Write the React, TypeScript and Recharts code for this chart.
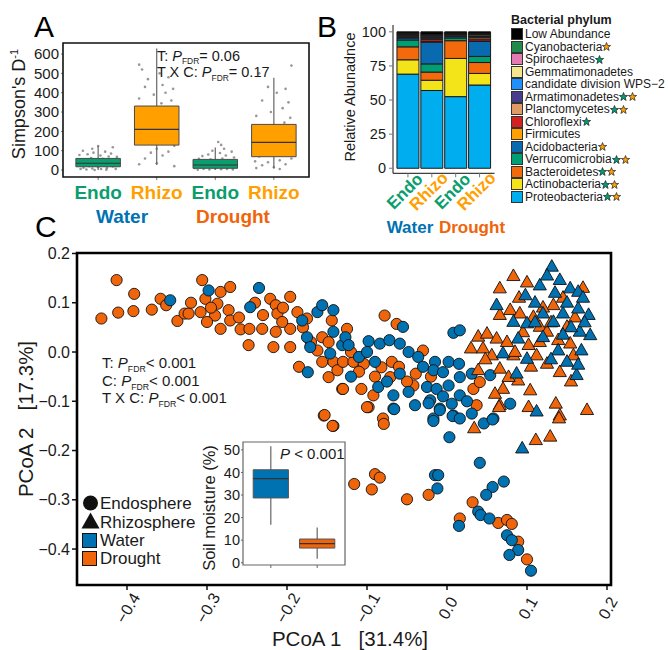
import React from 'react';
import { ScatterChart, Scatter, XAxis, YAxis, ReferenceArea, ReferenceLine, BarChart, Bar } from 'recharts';

const FONT = '"Liberation Sans", Arial, Helvetica, sans-serif';
const INK = '#1a1a1a';
const GREEN = '#0A9E6E';
const GOLD = '#FFA000';
const BLUE = '#0072B2';
const ORANGE = '#F0640A';

// ---------- A: Simpson's diversity ----------
const compartments = ['Endo', 'Rhizo', 'Endo', 'Rhizo'];
const simpsonMin = [0, 26, 0, 8];
const simpsonQ1 = [17, 129, 9, 69];
const simpsonMedian = [35, 210, 26, 143];
const simpsonQ3 = [60, 331, 55, 236];
const simpsonMax = [124, 628, 117, 477];

// jittered samples: [offset from group centre, Simpson's D-1]
const endoWaterSamples: [number, number][] = [
  [-0.3, 5], [-0.25, 12], [-0.2, 3], [-0.15, 20], [-0.1, 8], [-0.05, 30], [0, 15], [0.05, 5], [0.1, 25],
  [0.15, 10], [0.2, 40], [0.25, 18], [0.3, 6], [-0.28, 45], [-0.22, 55], [-0.12, 62], [-0.02, 48],
  [0.08, 58], [0.18, 70], [0.28, 52], [-0.32, 78], [-0.18, 82], [-0.08, 90], [0.04, 75], [0.12, 95],
  [0.22, 85], [0.32, 68], [-0.26, 100], [0, 124], [0.25, 118], [-0.1, 110], [0.3, 35], [-0.35, 28],
  [0.14, 2], [-0.06, 0],
];
const rhizoWaterSamples: [number, number][] = [
  [-0.3, 30], [-0.2, 60], [-0.1, 90], [0, 110], [0.1, 75], [0.2, 95], [0.3, 125], [-0.25, 140],
  [-0.15, 160], [-0.05, 175], [0.05, 190], [0.15, 150], [0.25, 170], [-0.28, 200], [-0.18, 225],
  [-0.08, 245], [0.02, 260], [0.12, 215], [0.22, 280], [0.3, 235], [-0.22, 300], [-0.12, 320],
  [0.08, 345], [0.18, 310], [-0.3, 370], [-0.05, 390], [0.15, 400], [0.25, 360], [-0.2, 430],
  [0.1, 440], [0.28, 420], [-0.15, 470], [0.05, 500], [-0.3, 545], [-0.25, 520], [0.2, 480],
  [0, 35], [0.3, 20],
];
const endoDroughtSamples: [number, number][] = [
  [-0.3, 2], [-0.2, 5], [-0.1, 3], [0, 8], [0.1, 4], [0.2, 6], [0.3, 3], [-0.25, 15], [-0.15, 22],
  [-0.05, 30], [0.05, 18], [0.15, 35], [0.25, 25], [-0.3, 40], [-0.18, 48], [-0.08, 55], [0.02, 42],
  [0.12, 60], [0.22, 50], [0.32, 65], [-0.22, 72], [-0.12, 80], [0.08, 88], [0.18, 75], [0.28, 95],
  [-0.05, 100], [0.15, 110], [0.1, 130], [0.05, 145], [-0.28, 58], [0.3, 12], [-0.35, 10],
];
const rhizoDroughtSamples: [number, number][] = [
  [-0.3, 10], [-0.2, 25], [-0.1, 40], [0, 15], [0.1, 50], [0.2, 30], [0.3, 60], [-0.25, 70],
  [-0.15, 85], [-0.05, 95], [0.05, 110], [0.15, 80], [0.25, 100], [-0.28, 120], [-0.18, 140],
  [-0.08, 160], [0.02, 130], [0.12, 170], [0.22, 150], [0.32, 190], [-0.22, 210], [-0.12, 230],
  [0.08, 200], [0.18, 245], [0.28, 270], [-0.3, 280], [-0.05, 300], [0.15, 320], [0.25, 350],
  [-0.2, 360], [0.05, 400], [-0.1, 430], [0.2, 420], [-0.25, 500], [0.3, 540], [0.1, 5], [-0.32, 45],
];

// ---------- B: relative abundance (%) per sample ----------
const sampleLabels = ['Endo', 'Rhizo', 'Endo', 'Rhizo'];
const proteobacteria = [69, 57, 52.5, 61];
const actinobacteria = [10.5, 7.5, 28, 8.5];
const bacteroidetes = [9.5, 6, 13, 8];
const verrucomicrobia = [5, 6, 2, 4.5];
const acidobacteria = [1.5, 16, 1, 11];
const firmicutes = [0.5, 0.3, 0.3, 0.3];
const chloroflexi = [0.5, 1.5, 0.7, 1.5];
const planctomycetes = [1, 1, 0.7, 1.2];
const armatimonadetes = [0.3, 0.7, 0.2, 0.6];
const wps2 = [0.2, 0.5, 0.1, 0.4];
const gemmatimonadetes = [0.3, 1, 0.2, 0.8];
const spirochaetes = [0.2, 0.2, 0.1, 0.2];
const cyanobacteria = [0.5, 0.3, 0.2, 0.5];
const lowAbundance = [1, 2, 1, 1.5];

// bottom to top of the stack
const phylumNames = [
  'Proteobacteria', 'Actinobacteria', 'Bacteroidetes', 'Verrucomicrobia', 'Acidobacteria', 'Firmicutes',
  'Chloroflexi', 'Planctomycetes', 'Armatimonadetes', 'candidate division WPS\u22122', 'Gemmatimonadetes',
  'Spirochaetes', 'Cyanobacteria', 'Low Abundance',
];
const phylumValues = [
  proteobacteria, actinobacteria, bacteroidetes, verrucomicrobia, acidobacteria, firmicutes, chloroflexi,
  planctomycetes, armatimonadetes, wps2, gemmatimonadetes, spirochaetes, cyanobacteria, lowAbundance,
];
const phylumColors = [
  '#00AEEF', '#F3E41A', '#F26A0C', '#009E73', '#0A6AB0', '#FF9F00', '#D42020', '#E09A66', '#483D8B',
  '#1E90FF', '#F5E58C', '#E27BB1', '#1F8A4C', '#000000',
];
// significance stars: g = endosphere (green), o = rhizosphere (orange)
const phylumStars = ['go', 'go', 'go', 'go', 'o', '', 'g', 'go', 'go', '', '', 'g', 'o', ''];

const abundanceRows = sampleLabels.map((s, i) => {
  const row: Record<string, number | string> = { id: `${s}-${i}` };
  phylumNames.forEach((p, k) => { row[p] = phylumValues[k][i]; });
  return row;
});

// ---------- C: PCoA ----------
const endoWaterPcoa: [number, number][] = [
  [-0.346, 0.105], [-0.298, 0.125], [-0.235, 0.13], [-0.246, 0.091], [-0.174, -0.041], [-0.181, 0.064],
  [-0.162, 0.081], [-0.156, 0.095], [-0.142, 0.085], [-0.175, 0.03], [-0.171, 0.01], [-0.142, 0.041],
  [-0.146, -0.003], [-0.131, 0.014], [-0.127, 0.03], [-0.055, 0.051], [0.008, 0.039], [0.016, 0.044],
  [-0.067, -0.115], [-0.04, -0.108], [-0.123, 0.014], [-0.098, 0.022], [-0.084, 0.017], [-0.072, 0.024],
  [-0.059, 0.017], [-0.048, 0], [-0.036, -0.01], [-0.059, -0.044], [-0.048, -0.081], [-0.025, -0.071],
  [-0.013, -0.075], [0.002, -0.068], [-0.015, -0.02], [0.002, -0.02], [0.015, -0.024], [-0.017, -0.037],
  [-0.005, -0.041], [0.016, -0.051], [0.054, -0.047], [0.031, -0.044], [-0.021, -0.098], [-0.009, -0.115],
  [0.006, -0.105], [0.016, -0.088], [0.031, -0.125], [0.079, -0.105], [-0.067, -0.088], [-0.086, -0.071],
  [-0.017, -0.135], [0.008, -0.129], [0.058, -0.135], [-0.066, -0.116], [-0.023, -0.104], [-0.009, -0.118],
  [0.007, -0.13], [-0.017, -0.14], [0.016, -0.135], [0.046, -0.145], [0.057, -0.137], [0.003, -0.173],
  [0.041, -0.225], [0.071, -0.263], [0.057, -0.274], [0.049, -0.29], [0.039, -0.324], [0.042, -0.331],
  [0.053, -0.338], [0.075, -0.372], [0.081, -0.382], [0.089, -0.402], [0.078, -0.412], [0.105, -0.444],
  [0.015, -0.353], [-0.015, -0.25], [-0.011, -0.25], [-0.012, -0.277], [-0.11, -0.01], [-0.09, -0.02],
  [-0.075, -0.06], [-0.03, -0.03], [-0.005, -0.09], [0.025, -0.1], [-0.12, -0.05], [-0.1, 0],
];
const endoDroughtPcoa: [number, number][] = [
  [-0.413, 0.146], [-0.391, 0.118], [-0.432, 0.068], [-0.411, 0.08], [-0.392, 0.083], [-0.369, 0.086],
  [-0.358, 0.108], [-0.351, 0.095], [-0.337, 0.063], [-0.328, 0.078], [-0.323, 0.078], [-0.306, 0.146],
  [-0.302, 0.108], [-0.287, 0.098], [-0.283, 0.122], [-0.271, 0.132], [-0.308, 0.081], [-0.29, 0.074],
  [-0.3, 0.061], [-0.273, 0.085], [-0.271, 0.064], [-0.283, 0.047], [-0.258, 0.046], [-0.247, 0.047],
  [-0.248, 0.014], [-0.231, 0.047], [-0.221, 0.108], [-0.214, 0.095], [-0.212, 0.078], [-0.196, 0.112],
  [-0.187, 0.081], [-0.214, 0.041], [-0.217, 0.01], [-0.196, 0.01], [-0.196, 0.047], [-0.206, 0.061],
  [-0.185, -0.03], [-0.175, 0.068], [-0.144, 0.064], [-0.156, 0.03], [-0.148, 0.02], [-0.162, 0.003],
  [-0.156, -0.02], [-0.142, -0.02], [-0.148, -0.051], [-0.137, -0.037], [-0.154, -0.129], [-0.131, -0.075],
  [-0.078, 0.074], [-0.063, 0.057], [-0.125, 0.047], [-0.13, -0.075], [-0.098, -0.112], [-0.03, 0.003],
  [-0.13, -0.02], [-0.117, -0.02], [-0.104, -0.024], [-0.082, -0.031], [-0.069, -0.02], [-0.071, -0.051],
  [-0.039, -0.044], [-0.042, -0.068], [0.033, -0.075], [0.041, -0.061], [0.037, -0.108], [-0.092, -0.088],
  [-0.107, -0.075], [-0.08, -0.135], [-0.1, -0.112], [-0.079, -0.146], [-0.142, -0.15], [-0.153, -0.128],
  [-0.143, -0.15], [0.032, -0.305], [0.064, -0.347], [0.075, -0.341], [0.081, -0.349], [0.089, -0.385],
  [0.1, -0.421], [0.016, -0.338], [-0.023, -0.29], [-0.05, -0.299], [-0.09, -0.248], [-0.084, -0.255],
  [-0.094, -0.279], [-0.116, -0.268], [-0.32, 0.1], [-0.295, 0.09], [-0.26, 0.07], [-0.24, 0.1],
  [-0.23, 0.075], [-0.205, 0.09], [-0.18, 0.05], [-0.17, 0.02], [-0.12, 0], [-0.11, -0.04], [-0.09, -0.05],
  [-0.06, -0.03], [-0.05, -0.06], [-0.02, -0.05],
];
const rhizoWaterPcoa: [number, number][] = [
  [0.131, 0.173], [0.098, 0.115], [0.116, 0.135], [0.141, 0.146], [0.154, 0.129], [0.164, 0.122],
  [0.062, 0.095], [0.083, 0.061], [0.1, 0.058], [0.12, 0.078], [0.145, 0.078], [0.164, 0.088],
  [0.177, 0.075], [0.179, 0.034], [0.166, 0.041], [0.133, 0.061], [0.089, 0.027], [0.168, 0.003],
  [0.139, 0.003], [0.162, -0.047], [0.164, -0.026], [0.07, -0.003], [0.1, -0.014], [0.087, -0.044],
  [0.112, -0.121], [0.094, -0.196], [0.125, 0.155], [0.15, 0.1], [0.135, 0.12], [0.17, 0.11], [0.11, 0.1],
  [0.155, 0.05], [0.12, 0.03], [0.145, 0.035], [0.172, 0.06], [0.13, -0.015], [0.15, -0.02], [0.11, 0.06],
];
const rhizoDroughtPcoa: [number, number][] = [
  [0.066, 0.129], [0.083, 0.154], [0.1, 0.141], [0.17, 0.13], [0.066, 0.075], [0.079, 0.085],
  [0.091, 0.078], [0.108, 0.071], [0.133, 0.095], [0.15, 0.051], [0.116, 0.051], [0.039, 0.031],
  [0.05, 0.037], [0.03, 0.007], [0.045, 0.007], [0.062, 0.027], [0.075, 0.02], [0.102, 0.014],
  [0.116, 0.02], [0.125, 0.041], [0.139, 0.024], [0.154, 0.017], [0.158, -0.007], [0.125, -0.024],
  [0.141, -0.041], [0.056, -0.007], [0.083, -0.007], [0.112, -0.007], [0.039, -0.037], [0.066, -0.034],
  [0.089, -0.058], [0.077, -0.051], [0.07, -0.075], [0.06, -0.085], [0.066, -0.108], [0.104, -0.078],
  [0.102, -0.112], [0.136, -0.105], [0.141, -0.129], [0.175, -0.118], [0.14, -0.135], [0.034, -0.155],
  [0.065, -0.112], [0.111, -0.179], [0.129, -0.172], [0.09, 0.11], [0.12, 0.09], [0.145, 0.11],
  [0.16, 0.07], [0.095, 0.04], [0.13, 0.06], [0.085, 0], [0.105, -0.03], [0.155, -0.06], [0.048, -0.015],
];
const pcoaXTicks = [-0.4, -0.3, -0.2, -0.1, 0, 0.1, 0.2];
const pcoaYTicks = [-0.4, -0.3, -0.2, -0.1, 0, 0.1, 0.2];

// ---------- C inset: soil moisture (%) ----------
const moistureMin = [16.8, 1.8];
const moistureQ1 = [28.7, 6.5];
const moistureMedian = [37.3, 8.5];
const moistureQ3 = [41.2, 10.5];
const moistureMax = [51.6, 15.6];

const toPoints = (pts: [number, number][]) => pts.map(([x, y]) => ({ x, y }));
const jitter = (group: number, pts: [number, number][]) => pts.map(([dx, y]) => ({ x: group + 1 + dx, y }));
const fmtPcoa = (v: number) => (v < 0 ? '\u2212' : '') + Math.abs(v).toFixed(1);

const Dot = (color: string) => (p: any) => (
  <circle cx={p.cx} cy={p.cy} r={5.6} fill={color} stroke="#111" strokeWidth={0.9} />
);
const Tri = (color: string) => (p: any) => (
  <polygon
    points={`${p.cx},${p.cy - 7.2} ${p.cx - 6.6},${p.cy + 4.4} ${p.cx + 6.6},${p.cy + 4.4}`}
    fill={color}
    stroke="#111"
    strokeWidth={0.9}
    strokeLinejoin="round"
  />
);
const Speck = (p: any) => <circle cx={p.cx} cy={p.cy} r={1.3} fill="#7d7d7d" fillOpacity={0.8} />;
const Nothing = () => <g />;

function Boxes({ centers, lo, q1, med, q3, hi, half, colors, edge }: any) {
  return centers.map((c: number, i: number) => (
    <React.Fragment key={`bx-${i}`}>
      <ReferenceLine segment={[{ x: c, y: lo[i] }, { x: c, y: hi[i] }]} stroke="#666" strokeWidth={1.2} zIndex={650} />
      <ReferenceArea
        x1={c - half}
        x2={c + half}
        y1={q1[i]}
        y2={q3[i]}
        fill={colors[i]}
        fillOpacity={1}
        stroke={edge}
        strokeWidth={1}
        zIndex={660}
      />
      <ReferenceLine segment={[{ x: c - half, y: med[i] }, { x: c + half, y: med[i] }]} stroke="#333" strokeWidth={1.2} zIndex={670} />
    </React.Fragment>
  ));
}

const Star = ({ color }: { color: string }) => (
  <svg width={9} height={9} viewBox="0 0 10 10" style={{ display: 'block', flex: 'none' }}>
    <polygon
      points="5,0.6 6.2,3.8 9.6,3.9 6.9,6 7.9,9.4 5,7.4 2.1,9.4 3.1,6 0.4,3.9 3.8,3.8"
      fill={color}
      stroke="#222"
      strokeWidth={0.8}
    />
  </svg>
);

const PText = ({ x, y, size, prefix, rest, italicOnly }: any) => (
  <text x={x} y={y} fontSize={size} fill={INK}>
    {prefix}
    <tspan fontStyle="italic">P</tspan>
    {italicOnly ? (
      <tspan>{rest}</tspan>
    ) : (
      <>
        <tspan fontSize={size * 0.58} dy={size * 0.25}>FDR</tspan>
        <tspan dy={-size * 0.25}>{rest}</tspan>
      </>
    )}
  </text>
);

export default function App() {
  const boxColorsA = compartments.map((c) => (c === 'Endo' ? GREEN : GOLD));
  const legendOrder = phylumNames.map((_, k) => phylumNames.length - 1 - k);
  const moistureCentres = moistureMedian.map((m, i) => ({ x: i + 1, y: m }));

  return (
    <div style={{ position: 'absolute', left: 0, top: 0, width: 668, height: 650, background: '#fff', fontFamily: FONT }}>
      {/* A */}
      <div style={{ position: 'absolute', left: 0, top: 0 }}>
        <ScatterChart width={320} height={230} margin={{ top: 43, right: 11, bottom: 23, left: 0 }}>
          <XAxis
            type="number"
            dataKey="x"
            domain={[0.4, 4.6]}
            ticks={[1, 2, 3, 4]}
            interval={0}
            height={30}
            axisLine={false}
            tickSize={3}
            tickMargin={2}
            tickLine={{ stroke: '#777' }}
            tick={(p: any) => (
              <text
                x={p.x}
                y={p.y + 17}
                textAnchor="middle"
                fontSize={19}
                fontWeight="bold"
                fill={compartments[p.index] === 'Endo' ? GREEN : GOLD}
              >
                {compartments[p.index]}
              </text>
            )}
          />
          <YAxis
            type="number"
            dataKey="y"
            domain={[-36, 657]}
            ticks={[0, 100, 200, 300, 400, 500, 600]}
            interval={0}
            width={63}
            axisLine={false}
            tickSize={2}
            tickMargin={2}
            tickLine={{ stroke: '#777' }}
            tick={{ fontSize: 15, fill: INK }}
          />
          <Scatter data={jitter(0, endoWaterSamples)} shape={Speck} isAnimationActive={false} />
          <Scatter data={jitter(1, rhizoWaterSamples)} shape={Speck} isAnimationActive={false} />
          <Scatter data={jitter(2, endoDroughtSamples)} shape={Speck} isAnimationActive={false} />
          <Scatter data={jitter(3, rhizoDroughtSamples)} shape={Speck} isAnimationActive={false} />
          {Boxes({
            centers: [1, 2, 3, 4],
            lo: simpsonMin,
            q1: simpsonQ1,
            med: simpsonMedian,
            q3: simpsonQ3,
            hi: simpsonMax,
            half: 0.38,
            colors: boxColorsA,
            edge: '#4a4a4a',
          })}
          <ReferenceArea x1={0.4} x2={4.6} y1={-36} y2={657} fill="none" stroke="#111" strokeWidth={1.6} zIndex={700} />
        </ScatterChart>
      </div>

      {/* B */}
      <div style={{ position: 'absolute', left: 340, top: 0 }}>
        <BarChart
          width={170}
          height={230}
          data={abundanceRows}
          margin={{ top: 25, right: 15.5, bottom: 14.7, left: 0 }}
          barCategoryGap="4%"
        >
          <XAxis
            dataKey="id"
            padding={{ left: 3, right: 3 }}
            interval={0}
            height={42}
            axisLine={{ stroke: '#111' }}
            tickLine={{ stroke: '#777' }}
            tickSize={4}
            tickMargin={2}
            tick={(p: any) => (
              <text
                x={p.x - 3}
                y={p.y + 12}
                transform={`rotate(-45 ${p.x - 3} ${p.y + 12})`}
                textAnchor="middle"
                dominantBaseline="central"
                fontSize={17}
                fontWeight="bold"
                fill={sampleLabels[p.index] === 'Endo' ? GREEN : GOLD}
              >
                {sampleLabels[p.index]}
              </text>
            )}
          />
          <YAxis
            type="number"
            domain={[-3.7, 105]}
            ticks={[0, 25, 50, 75, 100]}
            interval={0}
            width={53}
            axisLine={{ stroke: '#111' }}
            tickLine={{ stroke: '#777' }}
            tickSize={4}
            tickMargin={3}
            tick={{ fontSize: 14.5, fill: INK }}
          />
          {phylumNames.map((p, k) => (
            <Bar key={p} dataKey={p} stackId="a" fill={phylumColors[k]} stroke="#1a1a1a" strokeWidth={1} isAnimationActive={false} />
          ))}
        </BarChart>
      </div>

      {/* B legend */}
      <div style={{ position: 'absolute', left: 511, top: 14, fontSize: 12, color: INK, lineHeight: '12.5px' }}>
        <div style={{ fontWeight: 'bold', fontSize: 12.5, height: 14 }}>Bacterial phylum</div>
        {legendOrder.map((k) => (
          <div key={phylumNames[k]} style={{ display: 'flex', alignItems: 'center', height: 12.5 }}>
            <span
              style={{
                width: 10,
                height: 10,
                background: phylumColors[k],
                border: '1px solid #333',
                marginRight: 2,
                flex: 'none',
              }}
            />
            <span style={{ whiteSpace: 'nowrap' }}>{phylumNames[k]}</span>
            {phylumStars[k].split('').map((s, j) => (
              <Star key={j} color={s === 'g' ? '#009E73' : GOLD} />
            ))}
          </div>
        ))}
      </div>

      {/* C */}
      <div style={{ position: 'absolute', left: 0, top: 240 }}>
        <ScatterChart width={668} height={410} margin={{ top: 13, right: 57, bottom: 20, left: 0 }}>
          <XAxis
            type="number"
            dataKey="x"
            domain={[-0.4625, 0.205]}
            ticks={pcoaXTicks}
            interval={0}
            height={45}
            axisLine={false}
            tickSize={5}
            tickMargin={2}
            tickLine={{ stroke: '#111', strokeWidth: 1.5 }}
            tick={(p: any) => (
              <text
                x={p.x + 1}
                y={p.y + 16}
                transform={`rotate(-60 ${p.x + 1} ${p.y + 16})`}
                textAnchor="middle"
                dominantBaseline="central"
                fontSize={16}
                fill={INK}
              >
                {fmtPcoa(p.payload.value)}
              </text>
            )}
          />
          <YAxis
            type="number"
            dataKey="y"
            domain={[-0.473, 0.201]}
            ticks={pcoaYTicks}
            interval={0}
            width={77}
            axisLine={false}
            tickSize={5}
            tickMargin={2}
            tickLine={{ stroke: '#111', strokeWidth: 1.5 }}
            tickFormatter={fmtPcoa}
            tick={{ fontSize: 16, fill: INK }}
          />
          <Scatter data={toPoints(endoDroughtPcoa)} shape={Dot(ORANGE)} isAnimationActive={false} />
          <Scatter data={toPoints(endoWaterPcoa)} shape={Dot(BLUE)} isAnimationActive={false} />
          <Scatter data={toPoints(rhizoDroughtPcoa)} shape={Tri(ORANGE)} isAnimationActive={false} />
          <Scatter data={toPoints(rhizoWaterPcoa)} shape={Tri(BLUE)} isAnimationActive={false} />
          <ReferenceArea
            x1={-0.4625}
            x2={0.205}
            y1={-0.473}
            y2={0.201}
            fill="none"
            stroke="#000"
            strokeWidth={2.6}
            zIndex={700}
          />
        </ScatterChart>
      </div>

      {/* C inset */}
      <div style={{ position: 'absolute', left: 198, top: 436, width: 150, height: 134, background: '#fff' }}>
        <ScatterChart width={150} height={134} margin={{ top: 6, right: 3, bottom: 0, left: 0 }}>
          <XAxis
            type="number"
            dataKey="x"
            domain={[0.4, 2.6]}
            ticks={[1, 2]}
            interval={0}
            height={5}
            axisLine={false}
            tickSize={3}
            tickLine={{ stroke: '#666' }}
            tickFormatter={() => ''}
          />
          <YAxis
            type="number"
            dataKey="y"
            domain={[-1, 53.5]}
            ticks={[0, 10, 20, 30, 40, 50]}
            interval={0}
            width={45}
            axisLine={false}
            tickSize={2}
            tickMargin={1}
            tickLine={{ stroke: '#666' }}
            tick={{ fontSize: 14.5, fill: INK }}
          />
          <Scatter data={moistureCentres} shape={Nothing} isAnimationActive={false} />
          {Boxes({
            centers: [1, 2],
            lo: moistureMin,
            q1: moistureQ1,
            med: moistureMedian,
            q3: moistureQ3,
            hi: moistureMax,
            half: 0.38,
            colors: [BLUE, ORANGE],
            edge: '#555',
          })}
          <ReferenceArea x1={0.4} x2={2.6} y1={-1} y2={53.5} fill="none" stroke="#666" strokeWidth={1.2} zIndex={700} />
        </ScatterChart>
      </div>

      {/* text layer */}
      <svg width={668} height={650} style={{ position: 'absolute', left: 0, top: 0, pointerEvents: 'none' }} fontFamily={FONT}>
        <text x={34} y={37} fontSize={30} fill="#000">A</text>
        <text x={317} y={37} fontSize={30} fill="#000">B</text>
        <text x={35} y={237} fontSize={30} fill="#000">C</text>

        <text transform="translate(25 104) rotate(-90)" textAnchor="middle" fontSize={18} fill={INK}>
          Simpson's D<tspan fontSize={11} dy={-7}>-1</tspan>
        </text>
        <PText x={157} y={60.5} size={14.5} prefix="T: " rest="= 0.06" />
        <PText x={157} y={77} size={14.5} prefix="T X C: " rest="= 0.17" />
        <text x={122} y={223} textAnchor="middle" fontSize={19} fontWeight="bold" fill={BLUE}>Water</text>
        <text x={233} y={223} textAnchor="middle" fontSize={19} fontWeight="bold" fill={ORANGE}>Drought</text>

        <text transform="translate(355 97) rotate(-90)" textAnchor="middle" fontSize={14.5} fill={INK}>
          Relative Abunadnce
        </text>
        <text x={410} y={233} textAnchor="middle" fontSize={17} fontWeight="bold" fill={BLUE}>Water</text>
        <text x={472} y={233} textAnchor="middle" fontSize={17} fontWeight="bold" fill={ORANGE}>Drought</text>

        <text transform="translate(33 419) rotate(-90)" textAnchor="middle" fontSize={20.5} fill={INK}>
          {'PCoA 2\u00a0\u00a0\u00a0[17.3%]'}
        </text>
        <text x={350} y={646} textAnchor="middle" fontSize={20.5} fill={INK}>
          {'PCoA 1\u00a0\u00a0\u00a0[31.4%]'}
        </text>
        <PText x={102} y={368} size={15} prefix="T: " rest="< 0.001" />
        <PText x={102} y={386} size={15} prefix="C: " rest="< 0.001" />
        <PText x={102} y={403} size={15} prefix="T X C: " rest="< 0.001" />

        <text transform="translate(215 508) rotate(-90)" textAnchor="middle" fontSize={16.5} fill={INK}>
          Soil moisture (%)
        </text>
        <PText x={280} y={459} size={15} prefix="" rest=" < 0.001" italicOnly />

        <circle cx={90.5} cy={503} r={7.5} fill="#111" />
        <text x={100} y={509} fontSize={17} fill={INK}>Endosphere</text>
        <polygon points="90.5,512.5 81.5,528.5 99.5,528.5" fill="#111" />
        <text x={100} y={528} fontSize={17} fill={INK}>Rhizosphere</text>
        <rect x={82.5} y={533.5} width={14} height={14} fill={BLUE} stroke="#111" strokeWidth={1} />
        <text x={100} y={546} fontSize={17} fill={INK}>Water</text>
        <rect x={82.5} y={551.5} width={14} height={14} fill={ORANGE} stroke="#111" strokeWidth={1} />
        <text x={100} y={564} fontSize={17} fill={INK}>Drought</text>
      </svg>
    </div>
  );
}
